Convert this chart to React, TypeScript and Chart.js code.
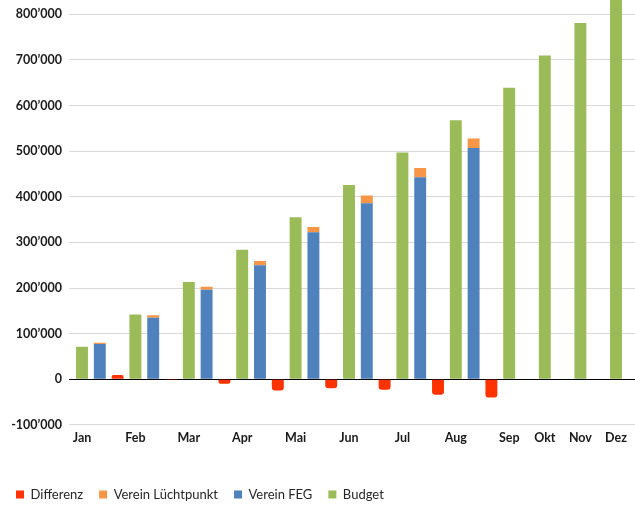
import { useEffect, useRef } from 'react';
import { Chart, registerables } from 'chart.js';

Chart.register(...registerables);

const months = ['Jan', 'Feb', 'Mar', 'Apr', 'Mai', 'Jun', 'Jul', 'Aug', 'Sep', 'Okt', 'Nov', 'Dez'];
const budget = [71000, 142000, 213000, 284000, 355000, 426000, 497000, 568000, 639000, 710000, 781000, 852000];
const vereinFEG = [77000, 135000, 196000, 250000, 322000, 386000, 443000, 507000];
const vereinLuechtpunkt = [3000, 5000, 7000, 9000, 12000, 17000, 20000, 21000];
const differenz = [9000, -2000, -10000, -25000, -20000, -23000, -34000, -40000];

const fmt = (v: number) => {
  if (v === 0) return '0';
  const s = Math.abs(v).toString().replace(/\B(?=(\d{3})+(?!\d))/g, '\u2019');
  return (v < 0 ? '-' : '') + s;
};

export default function App() {
  const ref = useRef<HTMLCanvasElement>(null);

  useEffect(() => {
    document.body.style.margin = '0';
    const labels: string[] = [];
    const b: (number | null)[] = [];
    const feg: (number | null)[] = [];
    const lp: (number | null)[] = [];
    const diff: (number | null)[] = [];
    const push = (l: string, bv: number | null, fv: number | null, lv: number | null, dv: number | null) => {
      labels.push(l); b.push(bv); feg.push(fv); lp.push(lv); diff.push(dv);
    };
    months.forEach((m, i) => {
      push(m, budget[i], null, null, null);
      if (i < vereinFEG.length) {
        push('', null, vereinFEG[i], vereinLuechtpunkt[i], null);
        push('', null, null, null, differenz[i]);
      } else {
        push('', null, null, null, null);
      }
    });

    const chart = new Chart(ref.current!, {
      type: 'bar',
      data: {
        labels,
        datasets: [
          { label: 'Budget', data: b, backgroundColor: '#9BBB59' },
          { label: 'Verein FEG', data: feg, backgroundColor: '#4F81BD' },
          { label: 'Verein L\u00fcchtpunkt', data: lp, backgroundColor: '#F79646' },
          { label: 'Differenz', data: diff, backgroundColor: '#FF3300', borderRadius: 3 },
        ],
      },
      options: {
        animation: false,
        responsive: true,
        maintainAspectRatio: false,
        layout: { padding: { top: 18.8, right: 17.3, left: 0, bottom: 0 } },
        datasets: { bar: { categoryPercentage: 1, barPercentage: 0.67 } },
        plugins: {
          tooltip: { enabled: false },
          legend: {
            position: 'bottom',
            align: 'start',
            reverse: true,
            labels: {
              boxWidth: 8,
              boxHeight: 8,
              padding: 16,
              color: '#262626',
              font: { family: 'Lato', size: 13 },
            },
          },
        },
        scales: {
          x: {
            stacked: true,
            grid: { display: false, drawTicks: false },
            border: { display: false },
            ticks: {
              autoSkip: false,
              maxRotation: 0,
              padding: 6,
              color: '#1a1a1a',
              font: { family: 'Lato', size: 12.5, weight: 'bold' },
            },
            afterFit: (s: any) => { s.height = 47.2; },
          },
          y: {
            stacked: true,
            min: -100000,
            max: 900000,
            border: { display: false },
            grid: {
              tickLength: 4,
              color: (ctx: any) => (ctx.tick && ctx.tick.value === 0 ? '#000000' : '#d9d9d9'),
              lineWidth: 1,
            },
            ticks: {
              stepSize: 100000,
              padding: 7,
              color: '#1a1a1a',
              font: { family: 'Lato', size: 12.5, weight: 'bold' },
              callback: (v: any) => fmt(Number(v)),
            },
            afterFit: (s: any) => { s.width = 73.1; },
          },
        },
      },
    });
    return () => chart.destroy();
  }, []);

  return (
    <div style={{ position: 'fixed', left: 0, top: 0, width: 635, height: 506, overflow: 'hidden' }}>
      <div style={{ position: 'absolute', left: 0, top: -50, width: 660, height: 561 }}>
        <canvas ref={ref} />
      </div>
    </div>
  );
}
